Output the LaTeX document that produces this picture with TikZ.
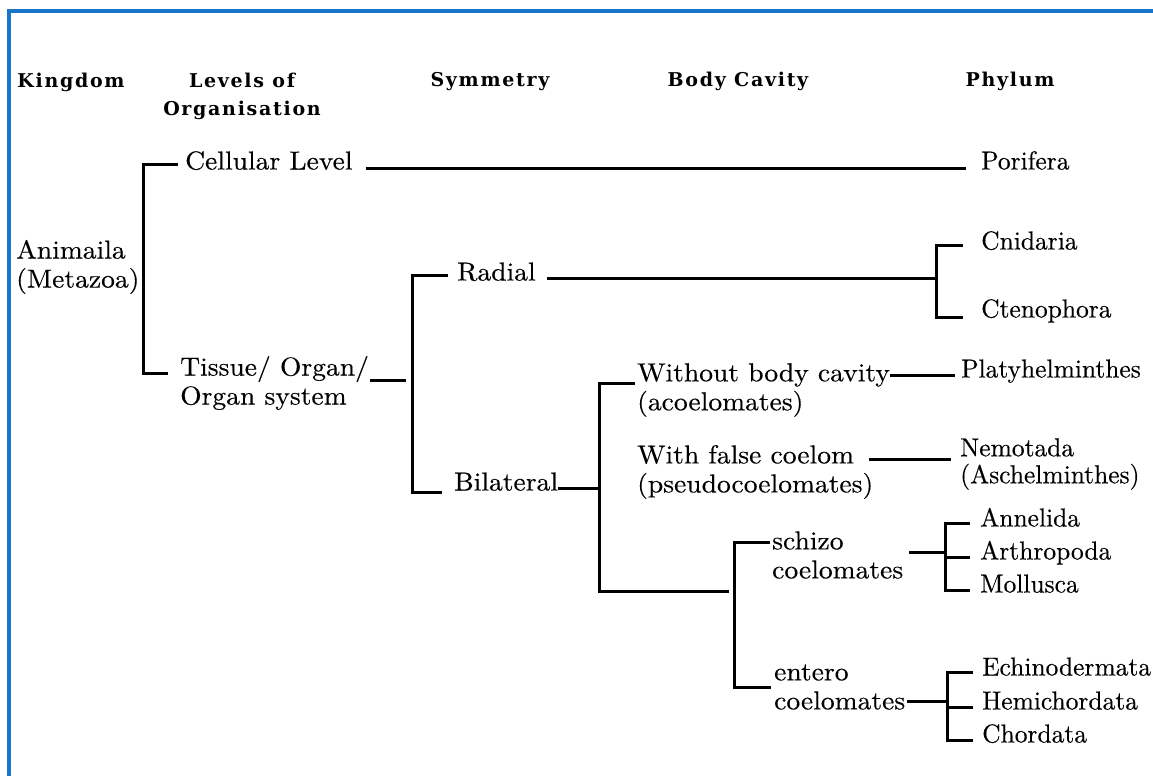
\documentclass[tikz,border=0pt]{standalone}
\usepackage{fontspec}
\newfontfamily\headfont[LetterSpace=9]{DejaVu Serif}
\newfontfamily\bodyfont[FakeStretch=1.06, FakeBold=0.3]{lmroman10-regular.otf}
\newfontfamily\phylfont[FakeStretch=0.98, FakeBold=0.3]{lmroman10-regular.otf}
\usetikzlibrary{calc}
\definecolor{framecol}{RGB}{25,118,200}

\begin{document}
\begin{tikzpicture}[x=1pt, y=-1pt,
    txt/.style={anchor=west, inner sep=0pt, align=left, font=\bodyfont\fontsize{26}{29}\selectfont},
    lbl/.style={txt, text height=0.72em, text depth=0.22em},
    phyl/.style={lbl, font=\phylfont\fontsize{26}{27}\selectfont},
    head/.style={inner sep=0pt, align=center, font=\headfont\bfseries\fontsize{19}{28}\selectfont},
    link/.style={line width=3pt}]
    \useasboundingbox (0,0) rectangle (1153,776);

    % frame, open at the bottom and on the right
    \draw[framecol, line width=3.4pt] (1153,11) -- (9,11) -- (9,776);

    % column heads
    \node[head] (kingdomH) at (71,82) {Kingdom};
    \node[head] (levelsH) at (242,96) {Levels of\\Organisation};
    \node[head] (symmetryH) at (490,82) {Symmetry};
    \node[head] (cavityH) at (738,81) {Body Cavity};
    \node[head] (phylumH) at (1010,81) {Phylum};

    % groups
    \node[txt] (animalia) at (16,267) {Animaila\\(Metazoa)};
    \node[lbl] (cellular) at (185,167) {Cellular Level};
    \node[txt] (tissue) at (180,383) {Tissue/ Organ/\\Organ system};
    \node[lbl] (radial) at (457,278) {Radial};
    \node[lbl] (bilateral) at (454,488) {Bilateral};
    \node[txt] (acoel) at (637,390) {Without body cavity\\(acoelomates)};
    \node[txt] (pseudo) at (637,472) {With false coelom\\(pseudocoelomates)};
    \node[txt] (schizo) at (772,555) {schizo\\coelomates};
    \node[txt] (entero) at (774,687) {entero\\coelomates};

    % phyla
    \node[phyl] (porifera) at (981,167) {Porifera};
    \node[phyl] (cnidaria) at (981,247) {Cnidaria};
    \node[phyl] (ctenophora) at (981,315) {Ctenophora};
    \node[phyl] (platy) at (961,375) {Platyhelminthes};
    \node[phyl, text height=, text depth=, align=left] (nemotada) at (960,464) {Nemotada\\(Aschelminthes)};
    \foreach \n/\t/\y in {annelida/Annelida/524, arthropoda/Arthropoda/557, mollusca/Mollusca/590}
        \node[phyl] (\n) at (980,\y) {\t};
    \foreach \n/\t/\y in {echino/Echinodermata/673, hemi/Hemichordata/707, chordata/Chordata/740}
        \node[phyl] (\n) at (982,\y) {\t};

    % spines of the brackets
    \coordinate (kTop) at (143,164);
    \coordinate (kBot) at (143,373);
    \coordinate (sTop) at (412,275);
    \coordinate (sBot) at (412,492);
    \coordinate (rSpine) at (936,0);
    \coordinate (bTop) at (599,383);
    \coordinate (bBot) at (599,591);
    \coordinate (cTop) at (734,542);
    \coordinate (cBot) at (734,687);
    \coordinate (zSpine) at (945,0);
    \coordinate (eSpine) at (947,0);

    % kingdom
    \draw[link] ($(kTop -| cellular.west)+(-7,0)$) -- (kTop) -- (kBot) -- ($(kBot -| tissue.west)+(-12,0)$);
    \draw[link] ($(cellular.east)+(13,1)$) -- ($(porifera.west)+(-15,1)$);

    % symmetry
    \draw[link] ($(tissue.east |- 0,380)+(1,0)$) -- ($(sTop |- 0,380)+(-6,0)$);
    \draw[link] ($(sTop -| radial.west)+(-9,0)$) -- (sTop) -- (sBot) -- ($(sBot -| bilateral.west)+(-12,0)$);
    \draw[link] ($(radial.east)+(11,0)$) -- (radial.east -| rSpine);
    \draw[link] ($(cnidaria.west)+(-18,-2)$) -- ($(cnidaria.west -| rSpine)+(0,-2)$)
        -- ($(ctenophora.west -| rSpine)+(0,2)$) -- ($(ctenophora.west)+(-18,2)$);

    % body cavity
    \draw[link] (bilateral.east) -- (bilateral.east -| bTop);
    \draw[link] ($(bTop -| acoel.west)+(-2,0)$) -- (bTop) -- (bBot) -- ($(bBot -| cTop)+(-5,0)$);
    \draw[link] (acoel.east |- platy.west) -- ($(platy.west)+(-6,0)$);
    \draw[link] ($(pseudo.east)+(-4,-13)$) -- ($(nemotada.west |- pseudo.east)+(-9,-13)$);
    \draw[link] ($(cTop -| schizo.west)+(-2,0)$) -- (cTop) -- (cBot) -- ($(cBot -| entero.west)+(-3,0)$);

    % coelomates
    \draw[link] ($(schizo.east)+(6,-3)$) -- ($(schizo.east -| zSpine)+(0,-3)$);
    \draw[link] ($(annelida.west)+(-10,-1)$) -- ($(annelida.west -| zSpine)+(0,-1)$) -- (mollusca.west -| zSpine) -- ($(mollusca.west)+(-10,0)$);
    \draw[link] (arthropoda.west -| zSpine) -- ($(arthropoda.west)+(-10,0)$);
    \draw[link] ($(entero.east)+(2,14)$) -- ($(entero.east -| eSpine)+(0,14)$);
    \draw[link] ($(echino.west)+(-9,-1)$) -- ($(echino.west -| eSpine)+(0,-1)$) -- (chordata.west -| eSpine) -- ($(chordata.west)+(-9,0)$);
    \draw[link] (hemi.west -| eSpine) -- ($(hemi.west)+(-9,0)$);
\end{tikzpicture}
\end{document}
